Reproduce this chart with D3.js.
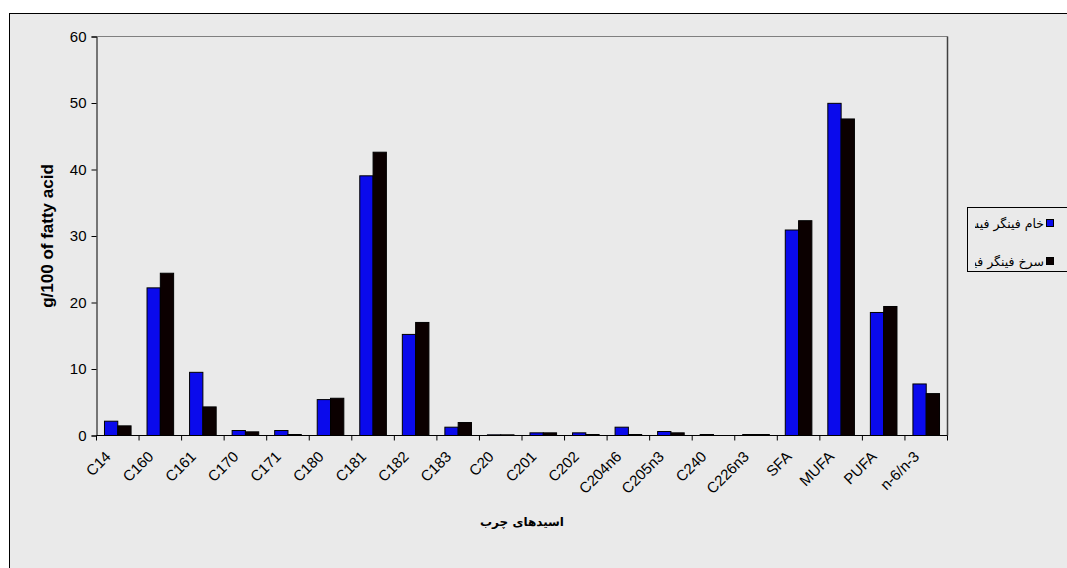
<!DOCTYPE html>
<html>
<head>
<meta charset="utf-8">
<script src="https://cdn.jsdelivr.net/npm/d3@7"></script>
<style>
  html, body { margin: 0; padding: 0; background: #ffffff; }
  svg { display: block; }
</style>
</head>
<body>
<svg id="chart" width="1067" height="568"></svg>
<script>
// Fatty acid composition (g/100 g of fatty acids)
const categories = ["C14", "C160", "C161", "C170", "C171", "C180", "C181", "C182", "C183",
  "C20", "C201", "C202", "C204n6", "C205n3", "C240", "C226n3", "SFA", "MUFA", "PUFA", "n-6/n-3"];
const rawValues   = [2.15, 22.2, 9.5, 0.75, 0.75, 5.4, 39.05, 15.2, 1.25, 0.1, 0.4, 0.4, 1.25, 0.6, 0.15, 0.15, 30.9, 49.95, 18.5, 7.75];
const friedValues = [1.45, 24.4, 4.3, 0.55, 0.15, 5.6, 42.6, 17.0, 1.95, 0.1, 0.4, 0.15, 0.15, 0.4, 0.0, 0.15, 32.3, 47.6, 19.4, 6.3];
const seriesNames = ["فیش فینگر خام", "فیش فینگر سرخ"];
const seriesColors = ["#0a0aec", "#0b0000"];
const yTicks = [0, 10, 20, 30, 40, 50, 60];

const LATIN = "'Liberation Sans', Arial, sans-serif";
const ARABIC = "'DejaVu Sans', sans-serif";

const svg = d3.select("#chart");

// chart area with frame
svg.append("rect")
  .attr("x", 9.5).attr("y", 13.5)
  .attr("width", 1070).attr("height", 570)
  .attr("fill", "#eaeaea").attr("stroke", "#000").attr("stroke-width", 1);

const plot = { left: 96.5, right: 947.5, top: 36.5, bottom: 435.5 };

const x = d3.scaleBand().domain(categories).range([plot.left, plot.right]).padding(0);
const y = d3.scaleLinear().domain([0, 60]).range([plot.bottom, plot.top]);

const bw = x.bandwidth() / 3.2;
const offset = (x.bandwidth() - 2 * bw) / 2;

// plot area border (top and right)
svg.append("line")
  .attr("x1", plot.left).attr("x2", plot.right)
  .attr("y1", plot.top).attr("y2", plot.top)
  .attr("stroke", "#808080").attr("stroke-width", 1);
svg.append("line")
  .attr("x1", plot.right).attr("x2", plot.right)
  .attr("y1", plot.top).attr("y2", plot.bottom)
  .attr("stroke", "#404040").attr("stroke-width", 1.5);

// bars
const series = [rawValues, friedValues];
series.forEach((vals, si) => {
  svg.append("g").selectAll("rect")
    .data(categories.map((c, i) => ({ c, v: vals[i] })))
    .join("rect")
    .attr("x", d => x(d.c) + offset + si * bw)
    .attr("y", d => y(d.v))
    .attr("width", bw)
    .attr("height", d => y(0) - y(d.v))
    .attr("fill", seriesColors[si])
    .attr("stroke", "#000")
    .attr("stroke-width", 1);
});

// y axis
const yAxis = svg.append("g")
  .attr("transform", `translate(${plot.left},0)`)
  .call(d3.axisLeft(y).tickValues(yTicks).tickSize(5).tickPadding(5).tickFormat(d3.format("d")));
yAxis.select(".domain").attr("stroke", "#000");
yAxis.selectAll(".tick line").attr("stroke", "#000");
yAxis.selectAll(".tick text")
  .attr("font-size", 15).attr("font-family", LATIN).attr("fill", "#000");

// x axis: ticks at category boundaries
const xAxisG = svg.append("g").attr("transform", `translate(0,${plot.bottom})`);
xAxisG.append("line")
  .attr("x1", plot.left).attr("x2", plot.right)
  .attr("stroke", "#000");
xAxisG.selectAll("line.tk")
  .data(d3.range(categories.length + 1))
  .join("line").attr("class", "tk")
  .attr("x1", i => i < categories.length ? x(categories[i]) : plot.right)
  .attr("x2", i => i < categories.length ? x(categories[i]) : plot.right)
  .attr("y1", 0).attr("y2", 5)
  .attr("stroke", "#000");
xAxisG.selectAll("text")
  .data(categories)
  .join("text")
  .attr("transform", d => `translate(${x(d) + x.bandwidth() / 2 - 6},${22}) rotate(-45)`)
  .attr("text-anchor", "end")
  .attr("font-size", 15)
  .attr("font-family", LATIN)
  .attr("fill", "#000")
  .text(d => d);

// axis titles
svg.append("text")
  .attr("transform", `translate(53,236) rotate(-90)`)
  .attr("text-anchor", "middle")
  .attr("font-size", 17).attr("font-weight", "bold")
  .attr("font-family", LATIN).attr("fill", "#000")
  .text("g/100 of fatty acid");

svg.append("text")
  .attr("x", (plot.left + plot.right) / 2).attr("y", 526)
  .attr("text-anchor", "middle")
  .attr("font-size", 12).attr("font-weight", "bold")
  .attr("font-family", ARABIC).attr("fill", "#000")
  .text("اسیدهای چرب");

// legend box; entry text is clipped to the inner text area
const legend = svg.append("g");
legend.append("clipPath").attr("id", "legclip")
  .append("rect").attr("x", 975).attr("y", 207).attr("width", 110).attr("height", 65);
legend.append("rect")
  .attr("x", 967.5).attr("y", 207.5).attr("width", 120).attr("height", 64)
  .attr("fill", "#eaeaea").attr("stroke", "#000").attr("stroke-width", 1);
const lg = legend.append("g").attr("clip-path", "url(#legclip)");
seriesNames.forEach((name, i) => {
  const cy = 223 + i * 38;
  lg.append("rect")
    .attr("x", 1046.5).attr("y", cy - 3.5).attr("width", 7).attr("height", 7)
    .attr("fill", seriesColors[i]).attr("stroke", "#000").attr("stroke-width", 1);
  // words placed left to right (last word next to the marker), each centred on its slot
  const words = name.split(" ");
  let right = 1044;
  for (let w = words.length - 1; w >= 0; w--) {
    const t = lg.append("text")
      .attr("y", cy + 5)
      .attr("text-anchor", "middle")
      .attr("font-size", 12.5)
      .attr("font-family", ARABIC).attr("fill", "#000")
      .text(words[w]);
    const len = t.node().getComputedTextLength();
    t.attr("x", right - len / 2);
    right -= len + 4;
  }
});
</script>
</body>
</html>
